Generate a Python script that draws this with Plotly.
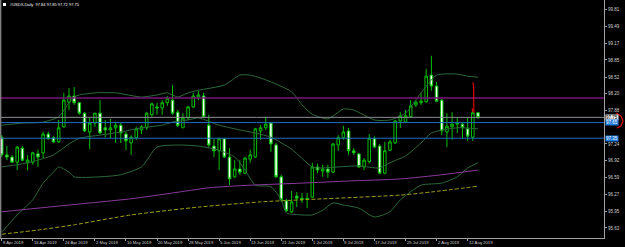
import plotly.graph_objects as go

# ---------------- data ----------------
bar_index = list(range(93))
opens = [97.37, 97.03, 96.99, 96.89, 97.16, 96.88, 96.89, 97.05, 97.07, 97.43,
         97.36, 97.28, 97.57, 98.04, 98.16, 98.03, 97.83, 97.47, 97.64, 97.83,
         97.55, 97.51, 97.55, 97.60, 97.43, 97.26, 97.36, 97.51, 97.55, 97.80,
         97.95, 97.93, 98.03, 98.08, 97.85, 97.55, 97.74, 97.95, 98.14, 98.16,
         97.60, 97.20, 97.11, 97.34, 96.99, 96.61, 96.76, 96.68, 96.95, 96.99,
         97.49, 97.55, 97.64, 97.22, 96.61, 96.15, 95.94, 96.24, 96.17, 96.20,
         96.22, 96.80, 96.72, 96.76, 96.70, 97.22, 97.36, 97.49, 97.11, 97.05,
         96.80, 96.90, 97.34, 97.20, 96.68, 97.12, 97.26, 97.68, 97.66, 97.76,
         97.99, 98.03, 98.05, 98.56, 98.35, 98.08, 97.47, 97.57, 97.62, 97.62,
         97.53, 97.37, 97.84]
highs = [97.41, 97.20, 97.03, 97.20, 97.20, 97.03, 97.09, 97.13, 97.47, 97.47,
         97.39, 97.70, 98.22, 98.31, 98.33, 98.04, 97.85, 97.74, 97.83, 98.08,
         97.70, 97.72, 97.66, 97.64, 97.47, 97.41, 97.57, 97.60, 97.85, 98.03,
         98.03, 98.08, 98.16, 98.37, 97.89, 97.83, 97.97, 98.22, 98.26, 98.22,
         97.80, 97.34, 97.36, 97.34, 97.16, 96.93, 96.93, 96.99, 97.13, 97.55,
         97.60, 97.76, 97.64, 97.26, 96.65, 96.19, 96.34, 96.32, 96.30, 96.30,
         96.88, 96.86, 96.84, 96.84, 97.26, 97.41, 97.59, 97.55, 97.16, 97.07,
         96.97, 97.43, 97.39, 97.24, 97.28, 97.32, 97.70, 97.85, 97.89, 98.08,
         98.08, 98.22, 98.68, 98.93, 98.43, 98.10, 97.83, 97.85, 97.74, 97.66,
         97.74, 97.91, 97.85]
lows = [96.99, 96.93, 96.88, 96.74, 96.91, 96.74, 96.84, 96.80, 96.97, 97.32,
        97.26, 97.26, 97.55, 97.89, 97.99, 97.80, 97.47, 97.14, 97.57, 97.43,
        97.37, 97.35, 97.26, 97.26, 97.12, 97.03, 97.32, 97.43, 97.51, 97.76,
        97.80, 97.80, 97.97, 97.80, 97.57, 97.55, 97.70, 97.93, 98.08, 97.74,
        97.18, 96.99, 96.74, 96.97, 96.45, 96.59, 96.65, 96.66, 96.88, 96.97,
        97.32, 97.51, 97.09, 96.59, 96.13, 95.94, 95.92, 96.03, 96.11, 96.01,
        96.20, 96.68, 96.61, 96.59, 96.68, 97.11, 97.32, 97.03, 97.03, 96.78,
        96.74, 96.87, 97.16, 96.66, 96.66, 97.10, 97.24, 97.55, 97.64, 97.74,
        97.95, 97.99, 98.03, 98.26, 98.05, 97.41, 97.18, 97.32, 97.45, 97.34,
        97.30, 97.30, 97.72]
closes = [97.03, 96.99, 96.89, 97.18, 96.93, 96.93, 97.07, 96.99, 97.43, 97.34,
          97.28, 97.55, 98.08, 98.16, 98.03, 97.83, 97.49, 97.64, 97.83, 97.45,
          97.51, 97.55, 97.60, 97.45, 97.30, 97.37, 97.53, 97.57, 97.83, 98.01,
          97.93, 98.03, 98.12, 97.83, 97.59, 97.74, 97.95, 98.16, 98.18, 97.76,
          97.22, 97.11, 97.34, 96.99, 96.57, 96.76, 96.70, 96.97, 97.03, 97.53,
          97.55, 97.62, 97.24, 96.61, 96.17, 95.96, 96.13, 96.20, 96.20, 96.19,
          96.80, 96.74, 96.76, 96.70, 97.24, 97.36, 97.47, 97.11, 97.07, 96.80,
          96.93, 97.35, 97.18, 96.68, 97.11, 97.28, 97.68, 97.78, 97.78, 97.97,
          98.04, 98.06, 98.54, 98.35, 98.06, 97.49, 97.58, 97.62, 97.64, 97.55,
          97.39, 97.84, 97.75]

# Bollinger-style envelope lines (read at selected bars)
upper_idx = [0, 4, 8, 11, 13, 14, 15, 18, 22, 27, 30, 32, 34, 36, 38, 43, 46, 48,
             51, 56, 58, 60, 63, 66, 68, 72, 75, 78, 81, 84, 88, 90, 92]
upper_val = [97.60, 97.64, 97.66, 97.76, 98.03, 98.14, 98.18, 98.22, 98.22, 98.14,
             98.18, 98.22, 98.14, 98.22, 98.27, 98.37, 98.56, 98.56, 98.47, 98.24,
             97.99, 97.81, 97.72, 97.91, 97.89, 97.70, 97.70, 97.83, 98.22, 98.56,
             98.58, 98.54, 98.52]
mid_idx = [0, 4, 7, 10, 13, 15, 19, 23, 27, 31, 33, 36, 38, 42, 46, 48, 52, 56,
           60, 62, 65, 69, 73, 75, 78, 81, 83, 88, 92]
mid_val = [96.80, 96.86, 96.93, 97.03, 97.24, 97.35, 97.41, 97.47, 97.55, 97.60,
           97.66, 97.70, 97.74, 97.60, 97.51, 97.47, 97.37, 97.14, 96.80, 96.78,
           96.80, 96.82, 96.78, 96.88, 97.01, 97.26, 97.45, 97.55, 97.53]
lower_idx = [0, 3, 6, 8, 10, 11, 13, 14, 19, 23, 27, 30, 34, 38, 42, 45, 47, 49,
             52, 54, 55, 58, 60, 62, 64, 66, 69, 72, 75, 77, 81, 85, 88, 90, 92]
lower_val = [95.55, 95.88, 96.17, 96.49, 96.70, 96.80, 96.70, 96.61, 96.61, 96.65,
             96.80, 97.18, 97.22, 97.20, 97.12, 96.99, 96.74, 96.45, 96.42, 96.17,
             95.92, 95.88, 95.88, 95.97, 96.11, 96.07, 96.01, 95.84, 95.94, 96.17,
             96.45, 96.49, 96.61, 96.78, 96.88]

# long moving averages
ma_purple_idx = [0, 11, 25, 33, 40, 48, 58, 67, 77, 85, 92]
ma_purple_val = [95.94, 96.05, 96.19, 96.30, 96.40, 96.45, 96.49, 96.53, 96.57, 96.65, 96.74]
ma_yellow_idx = [0, 7, 14, 25, 38, 50, 58, 77, 83, 92]
ma_yellow_val = [95.51, 95.59, 95.69, 95.88, 96.03, 96.13, 96.17, 96.26, 96.32, 96.43]

# horizontal levels
level_purple = 98.12
level_bid = 97.75
level_blue = [97.65, 97.35]

# axis labels
date_tick_idx = [0, 6, 12, 18, 24, 30, 36, 42, 48, 54, 60, 66, 72, 78, 84, 90]
date_labels = ["8 Apr 2019", "16 Apr 2019", "24 Apr 2019", "2 May 2019", "10 May 2019",
               "20 May 2019", "28 May 2019", "5 Jun 2019", "13 Jun 2019", "21 Jun 2019",
               "1 Jul 2019", "9 Jul 2019", "17 Jul 2019", "25 Jul 2019", "2 Aug 2019",
               "12 Aug 2019"]
price_ticks = [99.81, 99.49, 99.17, 98.85, 98.52, 98.20, 97.88, 97.24, 96.92,
               96.59, 96.27, 95.95, 95.63]
title_text = "#USDX,Daily  97.84 97.85 97.72 97.75"

# ---------------- figure ----------------
W, H = 625, 247
ML, MR, MT, MB = 0, 21, 0, 9
PW, PH = W - ML - MR, H - MT - MB
PX_PER_BAR = 5.177
X0 = 1.7
x_range = [-X0 / PX_PER_BAR, (PW - X0) / PX_PER_BAR]
Y_TOP, PX_PER_PRICE = 100.0, 1 / 0.01917
y_range = [Y_TOP - PH / PX_PER_PRICE, Y_TOP]
FONT = "Liberation Sans"

fig = go.Figure()

band_col = "#2d6a3c"
for xs, ys in [(upper_idx, upper_val), (mid_idx, mid_val), (lower_idx, lower_val)]:
    fig.add_trace(go.Scatter(x=xs, y=ys, mode="lines",
                             line=dict(color=band_col, width=1, shape="spline", smoothing=0.6),
                             hoverinfo="skip", showlegend=False))
fig.add_trace(go.Scatter(x=ma_purple_idx, y=ma_purple_val, mode="lines",
                         line=dict(color="#8a3a9c", width=1, shape="spline", smoothing=0.6),
                         hoverinfo="skip", showlegend=False))
fig.add_trace(go.Scatter(x=ma_yellow_idx, y=ma_yellow_val, mode="lines",
                         line=dict(color="#a0a018", width=1, dash="4px,2px", shape="spline", smoothing=0.6),
                         hoverinfo="skip", showlegend=False))

fig.add_trace(go.Candlestick(
    x=bar_index, open=opens, high=highs, low=lows, close=closes,
    increasing=dict(line=dict(color="#00c000", width=1), fillcolor="#000000"),
    decreasing=dict(line=dict(color="#00c000", width=1), fillcolor="#ffffff"),
    whiskerwidth=0, showlegend=False, hoverinfo="skip"))

shapes = []
shapes.append(dict(type="line", xref="paper", x0=0, x1=1, yref="y", y0=level_purple, y1=level_purple,
                   line=dict(color="#7a1478", width=1.5)))
shapes.append(dict(type="line", xref="paper", x0=0, x1=1, yref="y", y0=level_bid, y1=level_bid,
                   line=dict(color="#8c8c96", width=1)))
for lv in level_blue:
    shapes.append(dict(type="line", xref="paper", x0=0, x1=1, yref="y", y0=lv, y1=lv,
                       line=dict(color="#1f6cc4", width=1)))
shapes.append(dict(type="line", xref="paper", yref="paper", x0=0.001, x1=0.001, y0=0, y1=1,
                   line=dict(color="#808080", width=1.5)))
shapes.append(dict(type="rect", xref="paper", yref="paper",
                   x0=3 / PW, x1=6 / PW, y0=(PH - 6) / PH, y1=(PH - 3) / PH,
                   fillcolor="#ffffff", line=dict(width=0)))
shapes.append(dict(type="path", xref="x", yref="y",
                   path="M 91.0 98.42 L 91.15 98.37 L 91.2 97.84",
                   line=dict(color="#e00000", width=1.2)))
shapes.append(dict(type="path", xref="x", yref="y",
                   path="M 90.88 97.92 L 90.95 97.86",
                   line=dict(color="#e00000", width=1.2)))

def px2paper(px, py):
    return px / PW, (PH - py) / PH
p = [px2paper(*pt) for pt in [(616, 113), (621, 116), (623, 121), (621, 126), (617, 128)]]
path = "M " + " L ".join(f"{a:.4f} {b:.4f}" for a, b in p)
shapes.append(dict(type="path", xref="paper", yref="paper", path=path,
                   line=dict(color="#e01010", width=1.2)))

annotations = []
annotations.append(dict(text=title_text, xref="paper", yref="paper", x=8 / PW, y=(PH - 4.5) / PH,
                        xanchor="left", yanchor="middle", showarrow=False,
                        font=dict(color="#ffffff", size=4, family=FONT)))
for ti, lab in zip(date_tick_idx, date_labels):
    annotations.append(dict(text=lab, xref="x", yref="paper", x=ti, y=-4 / PH,
                            xanchor="left", yanchor="middle", showarrow=False, xshift=-1,
                            font=dict(color="#d0d0d0", size=4.2, family=FONT)))
annotations.append(dict(text=f"{level_bid:.2f}", xref="paper", yref="y", x=1.0, y=level_bid,
                        xanchor="left", yanchor="middle", showarrow=False, xshift=1,
                        bgcolor="#e8e8e8", borderpad=0,
                        font=dict(color="#000000", size=4.5, family=FONT)))
for lv in level_blue:
    annotations.append(dict(text=f"{lv:.2f}", xref="paper", yref="y", x=1.0, y=lv,
                            xanchor="left", yanchor="middle", showarrow=False, xshift=1,
                            bgcolor="#1f78d8", borderpad=0,
                            font=dict(color="#ffffff", size=4.5, family=FONT)))

fig.update_layout(
    width=W, height=H, margin=dict(l=ML, r=MR, t=MT, b=MB, pad=0),
    paper_bgcolor="#000000", plot_bgcolor="#000000",
    shapes=shapes, annotations=annotations, showlegend=False,
    xaxis=dict(range=x_range, showgrid=False, zeroline=False, rangeslider=dict(visible=False),
               tickvals=date_tick_idx, ticktext=[""] * len(date_tick_idx),
               ticks="outside", ticklen=2, tickcolor="#a0a0a0",
               showline=True, linecolor="#a0a0a0", linewidth=1),
    yaxis=dict(range=y_range, side="right", showgrid=False, zeroline=False,
               tickvals=price_ticks, ticktext=[f"{v:.2f}" for v in price_ticks],
               ticks="outside", ticklen=2, tickcolor="#a0a0a0",
               tickfont=dict(color="#d0d0d0", size=4.5, family=FONT),
               showline=True, linecolor="#a0a0a0", linewidth=1),
)

fig.write_html("out.html")
